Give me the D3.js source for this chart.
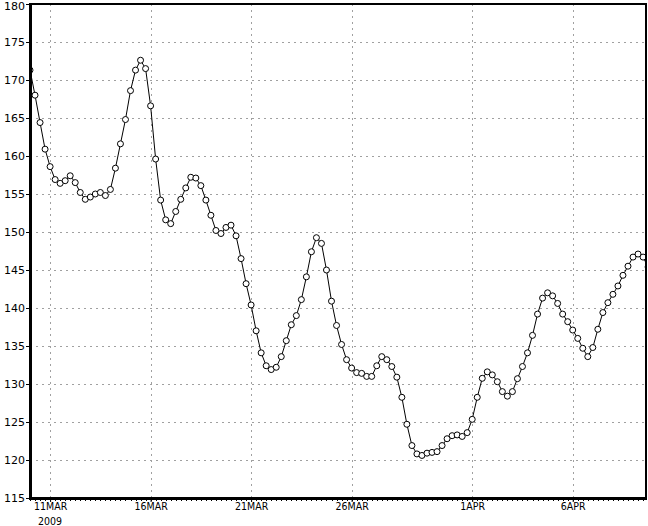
<!DOCTYPE html>
<html>
<head>
<meta charset="utf-8">
<script src="https://cdn.jsdelivr.net/npm/d3@7"></script>
<style>
  html, body { margin: 0; padding: 0; background: #fff; }
  svg { display: block; }
  text { font-family: "DejaVu Sans", sans-serif; fill: #000; }
</style>
</head>
<body>
<svg id="chart" width="648" height="526"></svg>
<script>
// ---- data ----
const startTime = "2009-03-10T00:00:00Z";   // first observation
const stepHours = 6;                          // observation interval
const values = [
  171.3, 168.0, 164.4, 160.9, 158.6, 156.9, 156.4, 156.75, 157.4, 156.5,
  155.2, 154.3, 154.6, 155.0, 155.2, 154.8, 155.6, 158.4, 161.6, 164.8,
  168.6, 171.3, 172.6, 171.5, 166.6, 159.6, 154.2, 151.6, 151.1, 152.7,
  154.3, 155.8, 157.2, 157.1, 156.1, 154.2, 152.2, 150.2, 149.8, 150.6,
  150.9, 149.5, 146.5, 143.2, 140.4, 137.0, 134.1, 132.4, 131.9, 132.2,
  133.6, 135.7, 137.8, 139.0, 141.1, 144.1, 147.4, 149.25, 148.5, 145.0,
  140.9, 137.7, 135.2, 133.2, 132.1, 131.5, 131.4, 131.0, 131.0, 132.4,
  133.6, 133.2, 132.3, 130.9, 128.25, 124.7, 121.9, 120.8, 120.6, 120.9,
  121.0, 121.1, 121.9, 122.8, 123.2, 123.3, 123.1, 123.6, 125.35, 128.25,
  130.75, 131.6, 131.2, 130.3, 129.0, 128.4, 129.0, 130.7, 132.3, 134.1,
  136.4, 139.2, 141.3, 142.0, 141.6, 140.6, 139.2, 138.2, 137.1, 136.0,
  134.7, 133.6, 134.8, 137.2, 139.4, 140.7, 141.8, 142.9, 144.3, 145.5,
  146.7, 147.1, 146.7, 145.4
];
const yTicks = [115, 120, 125, 130, 135, 140, 145, 150, 155, 160, 165, 170, 175, 180];
const xTickDates = ["2009-03-11", "2009-03-16", "2009-03-21", "2009-03-26", "2009-04-01", "2009-04-06"];
const xTickLabels = ["11MAR", "16MAR", "21MAR", "26MAR", "1APR", "6APR"];
const yearLabel = "2009";
const xDomain = ["2009-03-10T00:00:00Z", "2009-04-09T15:30:00Z"];
const yDomain = [115, 180];

// ---- layout ----
const L = 30, T = 4, R = 646, B = 498;
const svg = d3.select("#chart");
const t0 = new Date(startTime).getTime();
const data = values.map((v, i) => ({ t: new Date(t0 + i * stepHours * 3600e3), v }));

const x = d3.scaleUtc().domain(xDomain.map(d => new Date(d))).range([L, R]);
const y = d3.scaleLinear().domain(yDomain).range([B, T]);

// grid
const grid = svg.append("g").attr("stroke", "#a0a0a0").attr("stroke-width", 1)
  .attr("stroke-dasharray", "2,4").attr("shape-rendering", "crispEdges");
grid.selectAll("line.h").data(yTicks.slice(1, -1)).join("line")
  .attr("x1", L).attr("x2", R)
  .attr("y1", d => Math.round(y(d)) + 0.5).attr("y2", d => Math.round(y(d)) + 0.5);
grid.selectAll("line.v").data(xTickDates).join("line")
  .attr("y1", T).attr("y2", B)
  .attr("x1", d => Math.round(x(new Date(d + "T00:00:00Z"))) + 0.5)
  .attr("x2", d => Math.round(x(new Date(d + "T00:00:00Z"))) + 0.5);

// clip
svg.append("clipPath").attr("id", "clip").append("rect")
  .attr("x", L).attr("y", T).attr("width", R - L + 1).attr("height", B - T);

const plot = svg.append("g").attr("clip-path", "url(#clip)");
const line = d3.line().x(d => x(d.t)).y(d => y(d.v));
plot.append("path").datum(data).attr("d", line)
  .attr("fill", "none").attr("stroke", "#000").attr("stroke-width", 1);
plot.selectAll("circle").data(data).join("circle")
  .attr("cx", d => x(d.t)).attr("cy", d => y(d.v)).attr("r", 3)
  .attr("fill", "#fff").attr("stroke", "#000").attr("stroke-width", 1);

// frame
const frame = svg.append("g").attr("shape-rendering", "crispEdges");
frame.append("line").attr("x1", L - 1).attr("x2", R + 1).attr("y1", T).attr("y2", T)
  .attr("stroke", "#000").attr("stroke-width", 2);
frame.append("line").attr("x1", R).attr("x2", R).attr("y1", T).attr("y2", B)
  .attr("stroke", "#000").attr("stroke-width", 2);
frame.append("line").attr("x1", L - 1).attr("x2", R + 1).attr("y1", B).attr("y2", B)
  .attr("stroke", "#000").attr("stroke-width", 3);
frame.append("line").attr("x1", L).attr("x2", L).attr("y1", T - 1).attr("y2", B + 1)
  .attr("stroke", "#000").attr("stroke-width", 3);

// minor ticks every 6 hours on bottom
const minor = d3.utcHour.every(6).range(x.domain()[0], x.domain()[1]);
frame.selectAll("line.mb").data(minor).join("line")
  .attr("x1", d => Math.round(x(d)) + 0.5).attr("x2", d => Math.round(x(d)) + 0.5)
  .attr("y1", B + 1).attr("y2", B + 3).attr("stroke", "#000");

// y axis
const yAxis = d3.axisLeft(y).tickValues(yTicks).tickSize(3).tickPadding(1);
const ya = svg.append("g").attr("transform", `translate(${L - 1},0)`).call(yAxis);
ya.select(".domain").remove();
ya.selectAll("text").style("font-size", "11px").style("font-family", "DejaVu Sans, sans-serif");
ya.selectAll(".tick").filter(d => d === yTicks[yTicks.length - 1]).select("text").attr("dy", "0.5em");

// x axis
const xAxis = d3.axisBottom(x)
  .tickValues(xTickDates.map(d => new Date(d + "T00:00:00Z")))
  .tickFormat((d, i) => xTickLabels[i]).tickSize(4).tickPadding(1);
const xa = svg.append("g").attr("transform", `translate(0,${B})`).call(xAxis);
xa.select(".domain").remove();
xa.selectAll("text").style("font-size", "10.5px").style("font-family", "DejaVu Sans Condensed, DejaVu Sans, sans-serif");
svg.append("text").attr("x", x(new Date(xTickDates[0] + "T00:00:00Z")))
  .attr("y", 524.5).attr("text-anchor", "middle")
  .style("font-size", "10.5px").style("font-family", "DejaVu Sans Condensed, DejaVu Sans, sans-serif")
  .text(yearLabel);
</script>
</body>
</html>
